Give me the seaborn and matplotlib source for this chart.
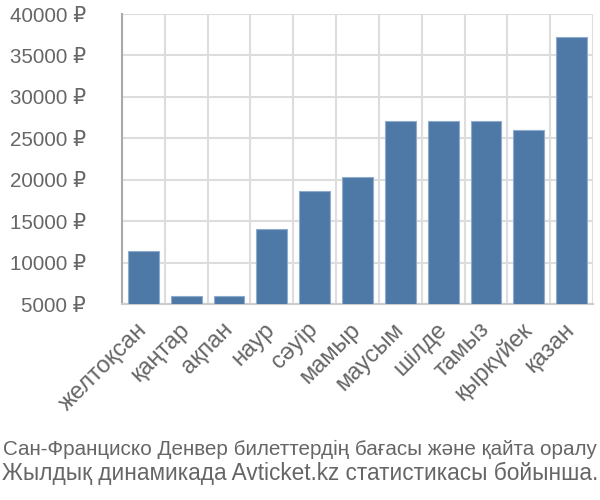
import matplotlib
matplotlib.use("Agg")
import matplotlib.pyplot as plt
import seaborn as sns
import pandas as pd

months = ["желтоқсан", "қаңтар", "ақпан", "наур", "сәуір", "мамыр",
          "маусым", "шілде", "тамыз", "қыркүйек", "қазан"]
prices = [11400, 6000, 6000, 14050, 18650, 20350, 27050, 27050, 27050, 26000, 37200]
yticks = [5000, 10000, 15000, 20000, 25000, 30000, 35000, 40000]
title_lines = ["Сан-Франциско Денвер билеттердің бағасы және қайта оралу",
               "Жылдық динамикада Avticket.kz статистикасы бойынша."]

sns.set_style("white")
plt.rcParams["font.family"] = ["Liberation Sans", "DejaVu Sans"]

df = pd.DataFrame({"month": months, "price": prices})

fig = plt.figure(figsize=(6, 5), dpi=100)
ax = fig.add_axes([122 / 600, 1 - 304 / 500, 471 / 600, 290 / 500])

base = yticks[0]
sns.barplot(data=df, x="month", y="price", color="#4e79a7", saturation=1,
            width=0.72, ax=ax, zorder=3, edgecolor="#8faccc", linewidth=0.8)

ax.set_ylim(base, yticks[-1])
ax.set_xlim(-0.5, len(months) - 0.5)

grid_c = "#dddddd"
text_c = "#666666"
ax.set_yticks(yticks)
ax.set_yticklabels([f"{v} ₽" for v in yticks], fontsize=14.8, color=text_c)
ax.set_xticks(range(len(months)))
ax.set_xticklabels(months, fontsize=17, color=text_c, rotation=45,
                   ha="right", va="center", rotation_mode="anchor")
ax.tick_params(axis="x", length=0, pad=16)
ax.tick_params(axis="y", length=22, color=grid_c, width=1.5, pad=4)

ax.set_xticks([i - 0.5 for i in range(len(months) + 1)], minor=True)
ax.tick_params(axis="x", which="minor", length=19, color=grid_c, width=1.5)
ax.grid(True, axis="x", which="minor", color=grid_c, lw=1.5, zorder=0)
ax.grid(True, axis="y", which="major", color=grid_c, lw=1.5, zorder=0)

for s in ["top", "right"]:
    ax.spines[s].set_visible(False)
ax.spines["bottom"].set_color("#cccccc")
ax.spines["bottom"].set_linewidth(1.5)
ax.spines["left"].set_color("#aaaaaa")
ax.spines["left"].set_linewidth(1.5)
ax.set_xlabel("")
ax.set_ylabel("")

renderer = fig.canvas.get_renderer()
for line, yb in zip(title_lines, [455, 480]):
    t = fig.text(0.5, 1 - yb / 500, line, ha="center", va="baseline",
                 fontsize=15, color=text_c)
    w = t.get_window_extent(renderer).width
    t.set_fontsize(15 * 597 / w)

fig.savefig("out.png", dpi=100)
